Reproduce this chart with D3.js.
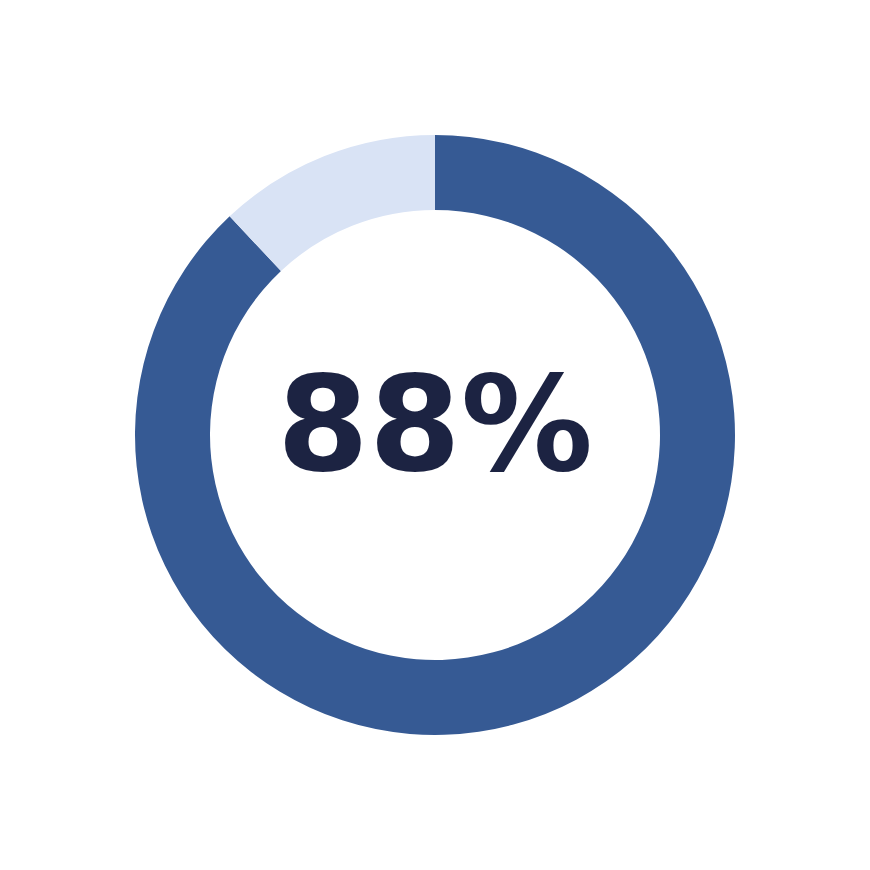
<!DOCTYPE html>
<html>
<head>
<meta charset="utf-8">
<script src="https://cdn.jsdelivr.net/npm/d3@7"></script>
<style>
  body { margin: 0; background: #fff; }
</style>
</head>
<body>
<div id="chart"></div>
<script>
const segments = ["Complete", "Remaining"];
const values = [88, 12];
const colors = ["#365a94", "#d9e3f5"];
const label = "88%";

const width = 870, height = 870;
const cx = 435, cy = 435;
const outerR = 300, innerR = 225;

const svg = d3.select("#chart").append("svg")
    .attr("width", width)
    .attr("height", height);

const pie = d3.pie().sort(null).value(d => d);
const arc = d3.arc().innerRadius(innerR).outerRadius(outerR);

const g = svg.append("g")
    .attr("transform", `translate(${cx},${cy})`);

g.selectAll("path")
    .data(pie(values))
    .join("path")
        .attr("d", arc)
        .attr("fill", (d, i) => colors[i]);

// big centre label, baseline placed just below centre
g.append("text")
    .attr("text-anchor", "middle")
    .attr("y", 35)
    .style("font-family", "DejaVu Sans")
    .style("font-weight", "bold")
    .style("font-size", "132px")
    .attr("fill", "#1c2342")
    .text(label);
</script>
</body>
</html>
